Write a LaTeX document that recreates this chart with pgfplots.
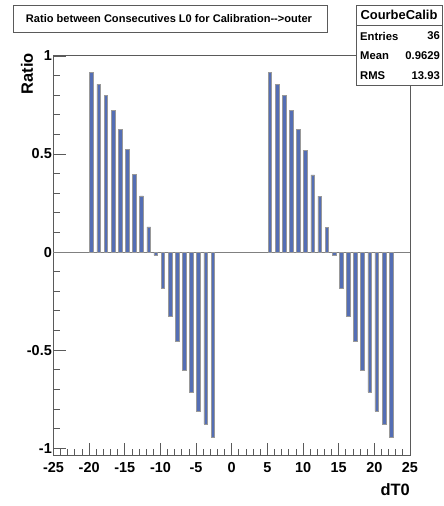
\documentclass[border=0pt]{standalone}
\usepackage{pgfplots}
\pgfplotsset{compat=1.18}
\usepackage{fontspec}
\setmainfont{Liberation Sans}
\definecolor{barblue}{RGB}{84,110,180}
\definecolor{frame}{RGB}{90,90,90}
\begin{document}
\begin{tikzpicture}
\path[use as bounding box] (0,0) rectangle (444bp,-506bp);
\begin{axis}[
  scale only axis,
  width=356.5bp, height=400bp,
  at={(53.5bp,-455bp)}, anchor=south west,
  xmin=-25, xmax=25, ymin=-1.035, ymax=1.005,
  xtick={-25,-20,-15,-10,-5,0,5,10,15,20,25},
  xticklabels={-25,-20,-15,-10,-5,0,5,10,15,20,25},
  ytick={-1,-0.5,0,0.5,1},
  yticklabels={-1,-0.5,0,0.5,1},
  minor x tick num=4, minor y tick num=4,
  xtick pos=bottom, ytick pos=left,
  tick align=inside,
  major tick length=12bp, minor tick length=6bp,
  every tick/.style={frame, line width=0.8bp},
  axis line style={frame, line width=0.9bp},
  ticklabel style={font=\fontsize{14.5}{14.5}\selectfont\bfseries},
  xticklabel style={inner sep=0pt, yshift=-7.5bp},
  yticklabel style={inner sep=0pt, xshift=-1.5bp},
  clip=false,
]
\addplot[draw=gray, line width=0.8bp] coordinates {(-25,0) (25,0)};
\addplot[ybar, bar width=0.52, fill=barblue, draw=gray!80, line width=0.6bp] coordinates {
(-19.65,0.915) (-18.65,0.855) (-17.65,0.799) (-16.65,0.721) (-15.65,0.626) (-14.65,0.522)
(-13.65,0.395) (-12.65,0.286) (-11.65,0.128) (-10.65,-0.017) (-9.65,-0.185) (-8.65,-0.330)
(-7.65,-0.457) (-6.65,-0.602) (-5.65,-0.714) (-4.65,-0.811) (-3.65,-0.876) (-2.65,-0.944)
(5.35,0.915) (6.35,0.855) (7.35,0.797) (8.35,0.722) (9.35,0.626) (10.35,0.519)
(11.35,0.394) (12.35,0.285) (13.35,0.126) (14.35,-0.017) (15.35,-0.185) (16.35,-0.330)
(17.35,-0.457) (18.35,-0.602) (19.35,-0.714) (20.35,-0.811) (21.35,-0.876) (22.35,-0.944)
};
\end{axis}
% axis titles
\node[rotate=90, anchor=east, inner sep=0pt, font=\fontsize{16.5}{16.5}\selectfont\bfseries] at (27bp,-53bp) {Ratio};
\node[anchor=east, inner sep=0pt, font=\fontsize{16.5}{16.5}\selectfont\bfseries] at (410bp,-489.5bp) {dT0};
% title box
\draw[frame, line width=0.9bp, fill=white] (13bp,-5bp) rectangle (327bp,-32bp);
\node[inner sep=0pt, font=\fontsize{11.1}{11.1}\selectfont\bfseries] at (169bp,-18.5bp) {Ratio between Consecutives L0 for Calibration-{}-{}>outer};
% stats box
\draw[frame, line width=0.9bp, fill=white] (356bp,-5bp) rectangle (442bp,-85bp);
\draw[frame, line width=0.9bp] (356bp,-25bp) -- (442bp,-25bp);
\node[inner sep=0pt, font=\fontsize{13}{13}\selectfont\bfseries] at (399bp,-15bp) {CourbeCalib};
\begin{scope}[every node/.style={inner sep=0pt, font=\fontsize{11.3}{11.3}\selectfont\bfseries}]
\node[anchor=west] at (360bp,-36bp) {Entries};
\node[anchor=east] at (440bp,-36bp) {36};
\node[anchor=west] at (360bp,-56bp) {Mean};
\node[anchor=east] at (440bp,-56bp) {0.9629};
\node[anchor=west] at (360bp,-76bp) {RMS};
\node[anchor=east] at (440bp,-76bp) {13.93};
\end{scope}
\end{tikzpicture}
\end{document}
